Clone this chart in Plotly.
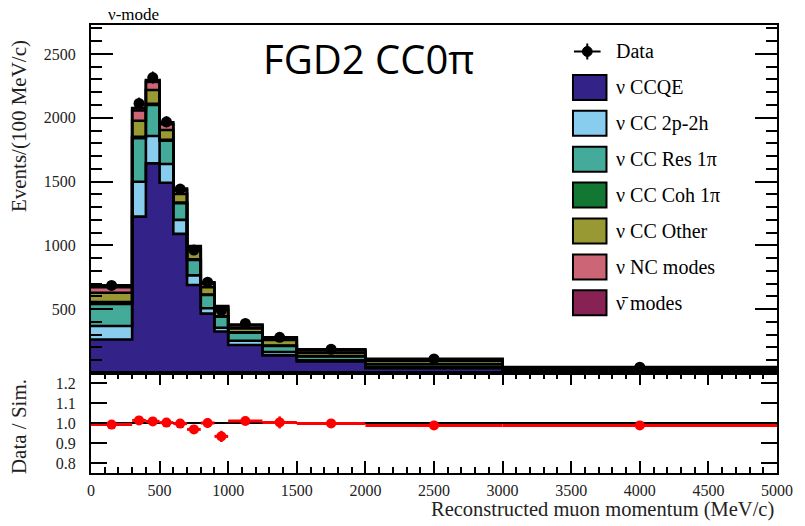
import numpy as np
import plotly.graph_objects as go

# ---------------- data ----------------
edges = [0, 300, 400, 500, 600, 700, 800, 900, 1000, 1250, 1500, 2000, 3000, 5000]
centers = [150, 350, 450, 550, 650, 750, 850, 950, 1125, 1375, 1750, 2500, 4000]

ccqe    = [262, 1225, 1643, 1491, 1090, 690, 465, 325, 219, 138, 90, 37, 20]
cc2p2h  = [106, 274, 214, 147, 110, 75, 42, 30, 34, 27, 10, 10, 4]
ccres   = [173, 340, 243, 182, 130, 120, 104, 86, 63, 47, 30, 21, 8]
cccoh   = [15, 12, 10, 8, 6, 5, 4, 3, 3, 3, 3, 3, 2]
ccother = [73, 126, 108, 76, 67, 74, 57, 50, 31, 44, 27, 25, 8]
ncmodes = [43, 80, 63, 45, 28, 22, 28, 22, 22, 14, 18, 10, 3]
antinu  = [15, 20, 15, 15, 14, 9, 10, 9, 8, 6, 8, 5, 2]

data_vals = [686, 2112, 2315, 1968, 1441, 963, 712, 490, 388, 280, 186, 110, 46]
data_err  = [15, 46, 48, 44, 38, 31, 27, 22, 12, 10, 6, 3, 2]

ratio_vals = [0.992, 1.013, 1.008, 1.002, 0.997, 0.968, 1.0, 0.933, 1.01, 1.003, 0.998, 0.988, 0.988]
ratio_err  = [0.010, 0.012, 0.010, 0.010, 0.012, 0.015, 0.025, 0.028, 0.015, 0.030, 0.012, 0.010, 0.010]

labels = ["ν CCQE", "ν CC 2p-2h", "ν CC Res 1π", "ν CC Coh 1π", "ν CC Other", "ν NC modes", "ν\u0304 modes"]
colors = ["#332288", "#88CCEE", "#44AA99", "#117733", "#999933", "#CC6677", "#882255"]

x_ticks = [0, 500, 1000, 1500, 2000, 2500, 3000, 3500, 4000, 4500, 5000]
y_ticks = [500, 1000, 1500, 2000, 2500]
r_ticks = [0.8, 0.9, 1.0, 1.1, 1.2]

# ---------------- geometry (final page pixels) ----------------
W, H = 805, 526
ML, MT, MR, MB = 91, 25, 18, 53
PW, PH = W - ML - MR, H - MT - MB
RATIO_H = 100
split = RATIO_H / PH

def px(x):  # page pixel -> paper
    return (x - ML) / PW

def py(y):
    return (H - MB - y) / PH

SERIF = "Liberation Serif"

layers = [ccqe, cc2p2h, ccres, cccoh, ccother, ncmodes, antinu]
widths = np.diff(edges)
cum = np.cumsum(np.array(layers, dtype=float), axis=0)

fig = go.Figure()

for vals, lab, col in zip(layers, labels, colors):
    fig.add_trace(go.Bar(
        x=centers, y=vals, width=widths, name=lab,
        marker=dict(color=col, line=dict(color=col, width=0.8)),
        xaxis="x", yaxis="y", showlegend=False, hoverinfo="skip",
    ))

step_x = list(edges)
for row in cum:
    step_y = list(row) + [row[-1]]
    fig.add_trace(go.Scatter(
        x=step_x, y=step_y, mode="lines", line=dict(color="black", width=2.6, shape="hv"),
        xaxis="x", yaxis="y", showlegend=False, hoverinfo="skip",
    ))

fig.add_trace(go.Scatter(
    x=centers, y=data_vals, mode="markers",
    marker=dict(color="black", size=11),
    error_y=dict(type="data", array=data_err, color="black", thickness=1.5, width=0),
    xaxis="x", yaxis="y", showlegend=False,
))

# ratio panel
fig.add_trace(go.Scatter(
    x=[edges[0], edges[-1]], y=[1.0, 1.0], mode="lines",
    line=dict(color="black", width=2), xaxis="x2", yaxis="y2", showlegend=False, hoverinfo="skip",
))
fig.add_trace(go.Scatter(
    x=centers, y=ratio_vals, mode="markers",
    marker=dict(color="#ff0000", size=10),
    error_x=dict(type="data", array=list(widths / 2), color="#ff0000", thickness=3, width=0),
    error_y=dict(type="data", array=ratio_err, color="#ff0000", thickness=2.5, width=0),
    xaxis="x2", yaxis="y2", showlegend=False,
))

tickfont = dict(family=SERIF, size=16, color="#222222")

fig.update_layout(
    # initial size fits inside the default 8px page margin; resized to 805x526 after load
    width=W - 16, height=H - 16,
    margin=dict(l=ML, r=MR, t=MT, b=MB),
    paper_bgcolor="white", plot_bgcolor="white",
    barmode="stack", showlegend=False,
    xaxis=dict(domain=[0, 1], range=[0, 5000], anchor="y", matches="x2",
               showticklabels=False, ticks="", showline=True, linewidth=2,
               linecolor="black", mirror=True, showgrid=False, zeroline=False),
    yaxis=dict(domain=[split, 1], range=[0, 2727], anchor="x",
               tickvals=y_ticks, ticks="inside", ticklen=22, tickwidth=1.5, tickcolor="black",
               minor=dict(dtick=100, tick0=0, ticks="inside", ticklen=11, tickwidth=1.5, tickcolor="black", showgrid=False),
               showline=True, linewidth=2, linecolor="black", mirror="allticks",
               showgrid=False, zeroline=False, tickfont=tickfont, ticklabelstandoff=10),
    xaxis2=dict(domain=[0, 1], range=[0, 5000], anchor="y2",
                tickvals=x_ticks, ticks="inside", ticklen=12, tickwidth=1.5, tickcolor="black",
                minor=dict(dtick=100, tick0=0, ticks="inside", ticklen=6, tickwidth=1.5, tickcolor="black", showgrid=False),
                showline=True, linewidth=2, linecolor="black", mirror="allticks",
                showgrid=False, zeroline=False, tickfont=tickfont, ticklabelstandoff=2,
                ticklabeloverflow="allow"),
    yaxis2=dict(domain=[0, split], range=[0.75, 1.25], anchor="x2",
                tickvals=r_ticks, ticktext=[f"{v:.1f}" for v in r_ticks],
                ticks="inside", ticklen=16, tickwidth=1.5, tickcolor="black",
                showline=True, linewidth=2, linecolor="black", mirror="allticks",
                showgrid=False, zeroline=False, tickfont=tickfont, ticklabelstandoff=10),
)

ann = []
ann.append(dict(text="ν-mode", x=px(106), y=py(14), xref="paper", yref="paper",
                xanchor="left", yanchor="middle", showarrow=False,
                font=dict(family=SERIF, size=17, color="black")))
ann.append(dict(text="FGD2 CC0π", x=px(373), y=py(59), xref="paper", yref="paper",
                xanchor="center", yanchor="middle", showarrow=False,
                font=dict(family="Open Sans", size=40, color="black")))
ann.append(dict(text="Events/(100 MeV/c)", x=px(18), y=py(126), xref="paper", yref="paper",
                xanchor="center", yanchor="middle", textangle=-90, showarrow=False,
                font=dict(family=SERIF, size=21, color="#222222")))
ann.append(dict(text="Data / Sim.", x=px(18), y=py(427), xref="paper", yref="paper",
                xanchor="center", yanchor="middle", textangle=-90, showarrow=False,
                font=dict(family=SERIF, size=21, color="#222222")))
ann.append(dict(text="Reconstructed muon momentum (MeV/c)", x=px(786), y=py(523), xref="paper", yref="paper",
                xanchor="right", yanchor="bottom", showarrow=False,
                font=dict(family=SERIF, size=20.5, color="#222222")))

# manual legend
shapes = []
leg_text_x = 622
row0 = 51.5
step = 35.9
shapes.append(dict(type="line", xref="paper", yref="paper", x0=px(581), x1=px(608), y0=py(row0), y1=py(row0),
                   line=dict(color="black", width=2)))
shapes.append(dict(type="line", xref="paper", yref="paper", x0=px(594.5), x1=px(594.5), y0=py(row0 - 8), y1=py(row0 + 8),
                   line=dict(color="black", width=2)))
shapes.append(dict(type="circle", xref="paper", yref="paper", x0=px(589.5), x1=px(599.5), y0=py(row0 + 5), y1=py(row0 - 5),
                   fillcolor="black", line=dict(color="black", width=1)))
ann.append(dict(text="Data", x=px(leg_text_x), y=py(row0), xref="paper", yref="paper",
                xanchor="left", yanchor="middle", showarrow=False,
                font=dict(family=SERIF, size=20, color="black")))
for i, (lab, col) in enumerate(zip(labels, colors)):
    cy = row0 + step * (i + 1)
    shapes.append(dict(type="rect", xref="paper", yref="paper", x0=px(580), x1=px(614),
                       y0=py(cy + 12.5), y1=py(cy - 12.5), fillcolor=col,
                       line=dict(color="black", width=2)))
    ann.append(dict(text=lab, x=px(leg_text_x), y=py(cy), xref="paper", yref="paper",
                    xanchor="left", yanchor="middle", showarrow=False,
                    font=dict(family=SERIF, size=20, color="black")))

fig.update_layout(annotations=ann, shapes=shapes)

post = ("var gd=document.getElementById('{plot_id}');"
        "document.body.style.margin='0';document.body.style.overflow='hidden';"
        "Plotly.relayout(gd,{width:%d,height:%d});" % (W, H))
fig.write_html("out.html", config={"displayModeBar": False}, post_script=post)
